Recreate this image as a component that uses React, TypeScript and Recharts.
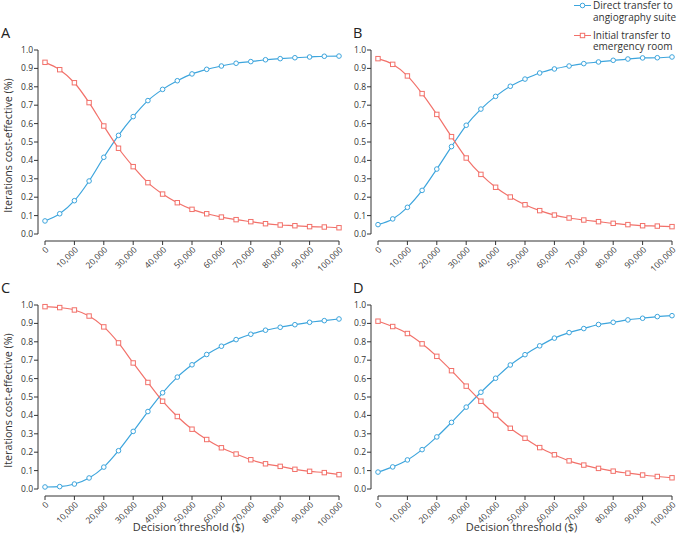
import React from 'react';
import { Legend, Line, LineChart, XAxis, YAxis } from 'recharts';

const BLUE = '#3da5dd';
const RED = '#f2716a';
const AXIS = '#333333';
const FONT = '"Open Sans", "Noto Sans", sans-serif';

const thresholds = [
  0, 5000, 10000, 15000, 20000, 25000, 30000, 35000, 40000, 45000, 50000,
  55000, 60000, 65000, 70000, 75000, 80000, 85000, 90000, 95000, 100000,
];
const xTicks = [0, 10000, 20000, 30000, 40000, 50000, 60000, 70000, 80000, 90000, 100000];
const yTicks = [0, 0.1, 0.2, 0.3, 0.4, 0.5, 0.6, 0.7, 0.8, 0.9, 1.0];

const seriesNames = {
  direct: 'Direct transfer to angiography suite',
  initial: 'Initial transfer to emergency room',
};

// panel A
const directA = [0.071, 0.11, 0.181, 0.288, 0.417, 0.536, 0.638, 0.725, 0.786, 0.833, 0.87, 0.895, 0.913, 0.928, 0.937, 0.947, 0.953, 0.958, 0.962, 0.966, 0.967];
const initialA = [0.933, 0.893, 0.822, 0.714, 0.587, 0.466, 0.366, 0.279, 0.217, 0.17, 0.134, 0.11, 0.092, 0.078, 0.067, 0.056, 0.049, 0.045, 0.04, 0.038, 0.034];

// panel B
const directB = [0.051, 0.082, 0.145, 0.237, 0.353, 0.475, 0.591, 0.679, 0.748, 0.803, 0.842, 0.875, 0.897, 0.913, 0.926, 0.935, 0.944, 0.951, 0.957, 0.958, 0.962];
const initialB = [0.953, 0.922, 0.859, 0.763, 0.65, 0.529, 0.413, 0.324, 0.254, 0.201, 0.159, 0.127, 0.103, 0.087, 0.076, 0.067, 0.058, 0.051, 0.045, 0.043, 0.04];

// panel C
const directC = [0.011, 0.013, 0.027, 0.06, 0.119, 0.208, 0.313, 0.421, 0.523, 0.608, 0.675, 0.731, 0.776, 0.812, 0.841, 0.863, 0.879, 0.893, 0.906, 0.915, 0.924];
const initialC = [0.991, 0.986, 0.973, 0.94, 0.881, 0.794, 0.685, 0.579, 0.477, 0.394, 0.325, 0.269, 0.224, 0.19, 0.159, 0.137, 0.123, 0.107, 0.096, 0.089, 0.078];

// panel D
const directD = [0.092, 0.12, 0.158, 0.214, 0.283, 0.362, 0.445, 0.526, 0.602, 0.674, 0.73, 0.778, 0.82, 0.85, 0.872, 0.894, 0.906, 0.919, 0.928, 0.937, 0.942];
const initialD = [0.912, 0.883, 0.845, 0.789, 0.721, 0.643, 0.559, 0.477, 0.402, 0.33, 0.276, 0.225, 0.186, 0.153, 0.13, 0.112, 0.097, 0.086, 0.076, 0.068, 0.061];

function buildRows(direct: number[], initial: number[]) {
  return thresholds.map((t, i) => ({ t, direct: direct[i], initial: initial[i] }));
}

const CircleDot = (props: any) => (
  <circle
    key={`c-${props.index}`}
    cx={props.cx}
    cy={props.cy}
    r={2.3}
    fill="#fff"
    stroke={BLUE}
    strokeWidth={1}
  />
);

const SquareDot = (props: any) => (
  <rect
    key={`s-${props.index}`}
    x={props.cx - 2.2}
    y={props.cy - 2.2}
    width={4.4}
    height={4.4}
    fill="#fff"
    stroke={RED}
    strokeWidth={1}
  />
);

function renderLegend({ payload }: any) {
  return (
    <div style={{ display: 'flex', flexDirection: 'column', gap: 6.5, fontFamily: FONT }}>
      {(payload || []).map((entry: any) => (
        <div key={entry.value} style={{ display: 'flex', alignItems: 'flex-start' }}>
          <svg width={19} height={11} style={{ flex: 'none' }}>
            <line x1={0} y1={5.5} x2={17} y2={5.5} stroke={entry.color} strokeWidth={1} />
            {entry.dataKey === 'direct' ? (
              <circle cx={8.5} cy={5.5} r={2.3} fill="#fff" stroke={entry.color} />
            ) : (
              <rect x={6.3} y={3.3} width={4.4} height={4.4} fill="#fff" stroke={entry.color} />
            )}
          </svg>
          <span style={{ fontSize: 10, lineHeight: '11.5px', color: AXIS, maxWidth: 84 }}>
            {entry.value}
          </span>
        </div>
      ))}
    </div>
  );
}

type PanelProps = {
  left: number;
  top: number;
  height: number;
  letter: string;
  direct: number[];
  initial: number[];
  yLabel?: boolean;
  xLabel?: boolean;
  legend?: boolean;
};

function Panel({ left, top, height, letter, direct, initial, yLabel, xLabel, legend }: PanelProps) {
  const rows = buildRows(direct, initial);
  return (
    <div style={{ position: 'absolute', left, top, width: 344, height }}>
      <div
        style={{
          position: 'absolute',
          left: letter === 'A' || letter === 'C' ? 1 : 20,
          top: 23,
          fontFamily: FONT,
          fontSize: 14.5,
          color: '#222',
        }}
      >
        {letter}
      </div>
      <LineChart
        width={344}
        height={height}
        data={rows}
        margin={{ top: 50, right: 5, left: 0, bottom: 0 }}
        style={{ fontFamily: FONT }}
      >
        <XAxis
          type="number"
          dataKey="t"
          domain={[0, 100000]}
          ticks={xTicks}
          interval={0}
          padding={{ left: 7, right: 0 }}
          tickFormatter={(v: number) => v.toLocaleString('en-US')}
          angle={-45}
          textAnchor="end"
          height={height - 50 - 191}
          tickSize={4}
          tickMargin={1}
          stroke={AXIS}
          axisLine={{ stroke: AXIS, strokeDasharray: '0 7 1000' }}
          tick={{ fontSize: 8.5, fill: AXIS }}
          label={
            xLabel
              ? {
                  value: 'Decision threshold ($)',
                  position: 'insideBottom',
                  offset: 13,
                  style: { fontSize: 11, fill: AXIS },
                }
              : undefined
          }
        />
        <YAxis
          type="number"
          domain={[0, 1]}
          ticks={yTicks}
          tickFormatter={(v: number) => v.toFixed(1)}
          padding={{ top: 0, bottom: 7 }}
          width={38}
          tickSize={4}
          tickMargin={1}
          stroke={AXIS}
          axisLine={{ stroke: AXIS, strokeDasharray: '184 1000' }}
          tick={{ fontSize: 8.5, fill: AXIS }}
          label={
            yLabel
              ? {
                  value: 'Iterations cost-effective (%)',
                  angle: -90,
                  position: 'insideLeft',
                  offset: 8,
                  style: { textAnchor: 'middle', fontSize: 10.7, fill: AXIS },
                }
              : undefined
          }
        />
        <Line
          type="monotone"
          dataKey="direct"
          name={seriesNames.direct}
          stroke={BLUE}
          strokeWidth={1.2}
          dot={CircleDot}
          activeDot={false}
          isAnimationActive={false}
        />
        <Line
          type="monotone"
          dataKey="initial"
          name={seriesNames.initial}
          stroke={RED}
          strokeWidth={1.2}
          dot={SquareDot}
          activeDot={false}
          isAnimationActive={false}
        />
        {legend && (
          <Legend
            layout="vertical"
            align="center"
            verticalAlign="middle"
            wrapperStyle={{ position: 'absolute', top: 0, left: 241, width: 103 }}
            content={renderLegend}
          />
        )}
      </LineChart>
    </div>
  );
}

export default function App() {
  return (
    <div style={{ position: 'absolute', left: 0, top: 0, width: 677, height: 544, background: '#fff' }}>
      <Panel left={0} top={0} height={286} letter="A" direct={directA} initial={initialA} yLabel />
      <Panel left={333} top={0} height={286} letter="B" direct={directB} initial={initialB} legend />
      <Panel left={0} top={255} height={289} letter="C" direct={directC} initial={initialC} yLabel xLabel />
      <Panel left={333} top={255} height={289} letter="D" direct={directD} initial={initialD} xLabel />
    </div>
  );
}
